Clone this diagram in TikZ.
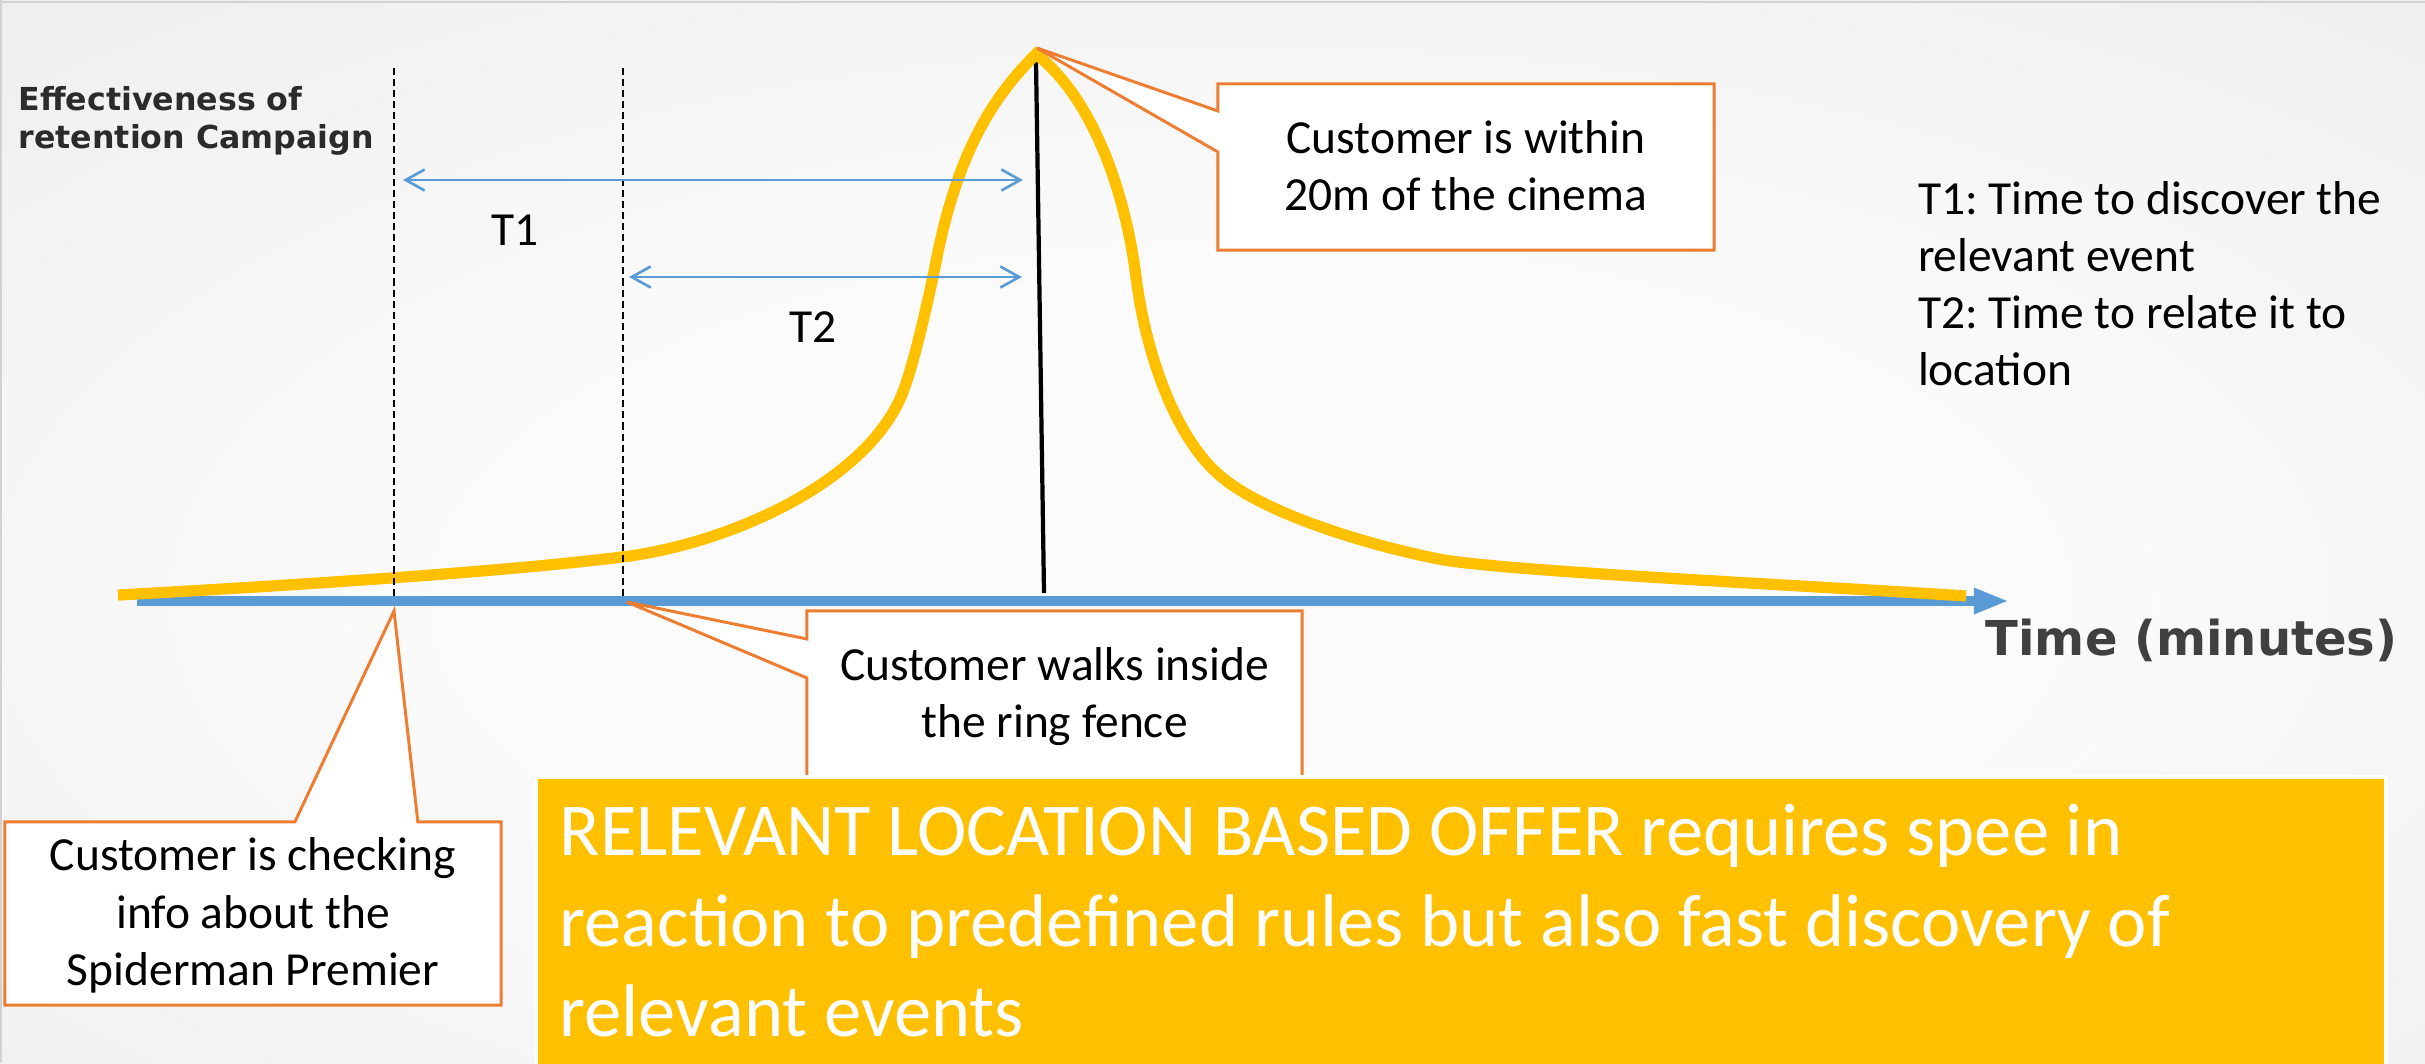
\documentclass[tikz,border=0pt]{standalone}
\usepackage{fontspec}
\setmainfont{Carlito}
\newfontfamily\verdfont{DejaVu Sans}
\usetikzlibrary{arrows.meta,calc}
\frenchspacing

\definecolor{axisblue}{HTML}{5B9BD5}
\definecolor{callorange}{HTML}{ED7D31}
\definecolor{curvegold}{HTML}{FFC000}
\definecolor{bgc0}{HTML}{FBFBFB}
\definecolor{bgc1}{HTML}{DCDCDC}
\definecolor{bgc2}{HTML}{D2D2D2}
\definecolor{edgegray}{HTML}{D2D2D2}
\definecolor{axistext}{HTML}{404040}
\definecolor{ylabeltext}{HTML}{2B2B2B}

% soft slide backdrop: light centre fading to grey corners
\pgfdeclareradialshading{slidebg}{\pgfpoint{0bp}{0bp}}{color(0bp)=(bgc0); color(8bp)=(bgc0); color(36bp)=(bgc1); color(50bp)=(bgc2)}

\tikzset{
  bodytext/.style={font=\fontsize{13.5pt}{16.36pt}\selectfont, text=black, inner sep=0pt, outer sep=0pt},
  boxframe/.style={inner sep=0pt, outer sep=0pt},
  callout/.style={draw=callorange, fill=white, line width=0.85pt, line join=miter},
  guide/.style={draw=black, line width=0.6pt, dash pattern=on 2pt off 1.15pt},
  span/.style={draw=axisblue, line width=0.75pt, {Straight Barb[length=5.4pt,width=6pt]}-{Straight Barb[length=5.4pt,width=6pt]}},
  timeaxis/.style={draw=axisblue, line width=3.1pt, -{Triangle[length=10pt,width=6.8pt]}},
  response/.style={draw=curvegold, line width=3.2pt, line join=miter},
  marker/.style={draw=black, line width=1.2pt},
  offerbox/.style={draw=white, fill=curvegold, line width=1.15pt, inner sep=0pt},
}

\begin{document}
\begin{tikzpicture}[x=0.01cm,y=-0.01cm]
\useasboundingbox (0,0) rectangle (2425,1063);

% backdrop
\begin{scope}
  \clip (0,0) rectangle (2425,1063);
  \shade[shading=slidebg] (-1175,-463) rectangle (3675,1663);
\end{scope}
\draw[edgegray, line width=0.6pt] (0,2) -- (2425,2);
\draw[edgegray, line width=0.6pt] (1,0) -- (1,1063);

% key positions
\coordinate (origin) at (137,601);
\coordinate (axisend) at (2009,601);
\coordinate (peaktip) at (1037,48);
\coordinate (linetop) at (1036,62);
\coordinate (peakfoot) at (1044,593);
\coordinate (g1top) at (394,68);
\coordinate (g1foot) at (394,596);
\coordinate (g2top) at (623,68);
\coordinate (g2foot) at (623,596);
\coordinate (fenceptr) at (627,602);
\coordinate (checkptr) at (394,611);
\coordinate (t1a) at (403,180);
\coordinate (t1b) at (1023,180);
\coordinate (t2a) at (629,277);
\coordinate (t2b) at (1022,277);

% time axis
\draw[timeaxis] (origin) -- (axisend);

% moment of the peak
\draw[marker] (linetop) -- (peakfoot);

% effectiveness curve
\draw[response] (118,595) .. controls (300,585) and (500,572) .. (622,557)
  .. controls (722,545) and (860,487) .. (900,399)
  .. controls (912,373) and (928,302) .. (937,257)
  .. controls (959,147) and (996,94) .. (1036,54)
  .. controls (1095,100) and (1126,197) .. (1136,277)
  .. controls (1145,349) and (1173,434) .. (1218,474)
  .. controls (1265,516) and (1380,548) .. (1444,560)
  .. controls (1520,572) and (1800,585) .. (1966,596);

% event guides
\draw[guide] (g1top) -- (g1foot);
\draw[guide] (g2top) -- (g2foot);

% T1 / T2 spans
\draw[span] (t1a) -- (t1b);
\draw[span] (t2a) -- (t2b);
\node[bodytext, anchor=base] (t1lab) at (515,245) {T1};
\node[bodytext, anchor=base] (t2lab) at (813,342) {T2};

% callout: within 20m
\node[boxframe, minimum width=4.96cm, minimum height=1.66cm] (c1) at (1466,167) {};
\filldraw[callout] (c1.north west) -- (c1.north east) -- (c1.south east) -- (c1.south west)
  -- ($(c1.north west)+(0,68)$) -- (peaktip) -- ($(c1.north west)+(0,27)$) -- cycle;
\node[bodytext, align=center, anchor=base] (c1txt) at ($(c1.north)+(0,127)$) {Customer is within\\20m of the cinema};

% callout: ring fence
\node[boxframe, minimum width=4.95cm, minimum height=1.66cm] (c2) at (1054.5,694) {};
\filldraw[callout] (c2.north west) -- (c2.north east) -- (c2.south east) -- (c2.south west)
  -- ($(c2.north west)+(0,67)$) -- (fenceptr) -- ($(c2.north west)+(0,28)$) -- cycle;
\node[bodytext, align=center, anchor=base] (c2txt) at ($(c2.north)+(0,127)$) {Customer walks inside\\the ring fence};

% callout: checking info
\node[boxframe, minimum width=4.96cm, minimum height=1.83cm] (c3) at (253,913.5) {};
\filldraw[callout] (c3.north west) -- ($(c3.north west)+(290,0)$) -- (checkptr) -- ($(c3.north west)+(413,0)$)
  -- (c3.north east) -- (c3.south east) -- (c3.south west) -- cycle;
\node[bodytext, align=center, anchor=base] (c3txt) at ($(c3.north)+(0,164)$) {Customer is checking\\info about the\\Spiderman Premier};

% conclusion banner
\node[offerbox, minimum width=18.48cm, minimum height=3.03cm] (offer) at (1461,928.5) {};
\node[font=\fontsize{21.2pt}{25.6pt}\selectfont, text=white, align=left, anchor=base west, inner sep=0pt] (offertxt) at (559,1036)
  {RELEVANT LOCATION BASED OFFER requires spee in\\reaction to predefined rules but also fast discovery of\\relevant events};

% axis titles and legend
\node[font=\verdfont\bfseries\fontsize{9pt}{10.8pt}\selectfont, text=ylabeltext, align=left, anchor=base west, inner sep=0pt] (ylab) at (18,148)
  {Effectiveness of\\retention Campaign};
\node[font=\verdfont\bfseries\fontsize{13.66pt}{16pt}\selectfont, text=axistext, anchor=base west, inner sep=0pt] (xlab) at (1985,655) {Time (minutes)};
\node[bodytext, font=\fontsize{13.5pt}{16.2pt}\selectfont, align=left, anchor=base west] (legend) at (1918,385)
  {T1: Time to discover the\\relevant event\\T2: Time to relate it to\\location};
\end{tikzpicture}
\end{document}
